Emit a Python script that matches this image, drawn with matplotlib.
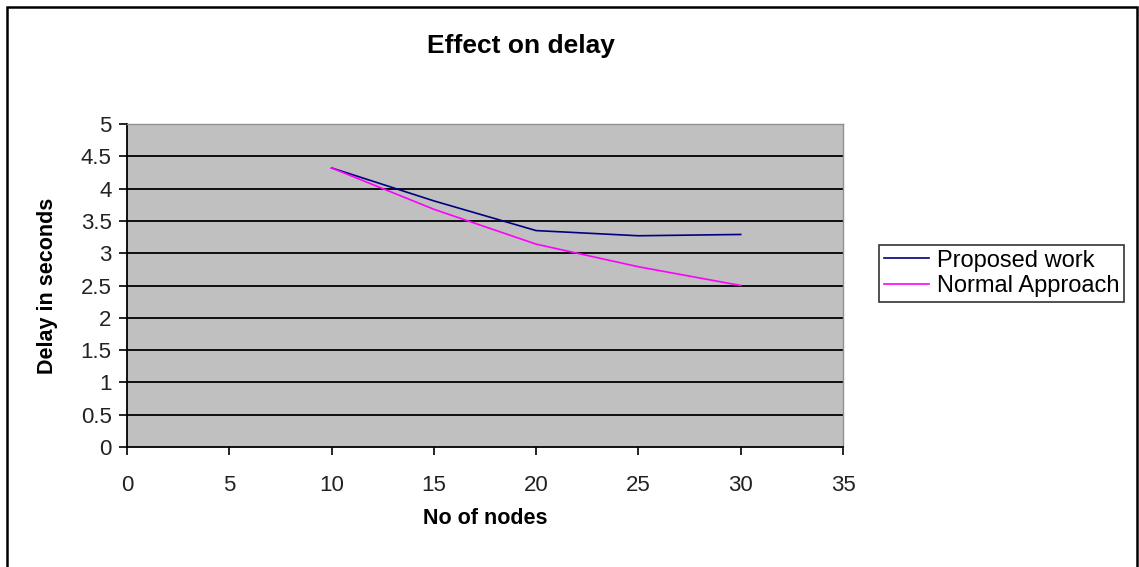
import matplotlib.pyplot as plt
from matplotlib.patches import Rectangle

plt.rcParams["font.family"] = ["Liberation Sans", "DejaVu Sans"]

nodes = [10, 15, 20, 25, 30]
proposed_work = [4.32, 3.81, 3.35, 3.27, 3.29]
normal_approach = [4.32, 3.68, 3.14, 2.79, 2.5]

x_ticks = [0, 5, 10, 15, 20, 25, 30, 35]
y_ticks = [0, 0.5, 1, 1.5, 2, 2.5, 3, 3.5, 4, 4.5, 5]
y_tick_labels = ["0", "0.5", "1", "1.5", "2", "2.5", "3", "3.5", "4", "4.5", "5"]

fig = plt.figure(figsize=(11.39, 5.67), dpi=100)
ax = fig.add_axes([127 / 1139, 1 - 447 / 567, 716 / 1139, 323 / 567])
ax.set_facecolor("#c0c0c0")

for y in y_ticks[1:]:
    ax.axhline(y, color="black", linewidth=1.3, zorder=1)

ax.plot(nodes, proposed_work, color="#000080", linewidth=1.2, label="Proposed work", zorder=3)
ax.plot(nodes, normal_approach, color="#ff00ff", linewidth=1.2, label="Normal Approach", zorder=3)

ax.set_xlim(0, 35)
ax.set_ylim(0, 5)
ax.set_xticks(x_ticks)
ax.set_yticks(y_ticks)
ax.set_yticklabels(y_tick_labels)
ax.tick_params(axis="both", direction="out", length=6, width=1.2, labelsize=16,
               colors="black", labelcolor="#222222")
ax.tick_params(axis="x", pad=14)
ax.tick_params(axis="y", pad=5)

for side in ["left", "bottom"]:
    ax.spines[side].set_color("black")
    ax.spines[side].set_linewidth(1.3)
for side in ["top", "right"]:
    ax.spines[side].set_color("#909090")
    ax.spines[side].set_linewidth(1.0)

ax.set_title("Effect on delay", fontsize=19, fontweight="bold", pad=51, x=0.55)
ax.set_xlabel("No of nodes", fontsize=15.5, fontweight="bold", labelpad=9)
ax.set_ylabel("Delay in seconds", fontsize=15.5, fontweight="bold", labelpad=16)

leg = ax.legend(loc="upper left", bbox_to_anchor=(879 / 1139, 1 - 245 / 567),
                bbox_transform=fig.transFigure, borderaxespad=0, fontsize=17,
                frameon=True, fancybox=False, handlelength=1.9, handletextpad=0.35,
                borderpad=0.2, labelspacing=0.15)
leg.get_frame().set_edgecolor("black")
leg.get_frame().set_linewidth(1.2)

fig.patches.append(Rectangle((7 / 1139, -0.01), 1130 / 1139, 1 - 7 / 567 + 0.01,
                             transform=fig.transFigure, fill=False,
                             edgecolor="black", linewidth=1.8))

fig.savefig("out.png", dpi=100, facecolor="white")
